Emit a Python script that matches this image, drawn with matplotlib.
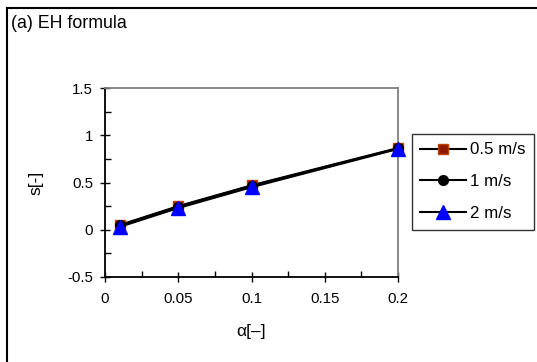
import matplotlib
matplotlib.use("Agg")
import matplotlib.pyplot as plt
from matplotlib.lines import Line2D
from matplotlib.ticker import MultipleLocator

plt.rcParams['font.family'] = ['Liberation Sans', 'DejaVu Sans']

alpha = [0.01, 0.05, 0.1, 0.2]
s_05 = [0.05, 0.25, 0.47, 0.865]
s_1 = [0.045, 0.245, 0.465, 0.86]
s_2 = [0.03, 0.23, 0.45, 0.855]
labels = ["0.5 m/s", "1 m/s", "2 m/s"]
xticks = [0, 0.05, 0.1, 0.15, 0.2]
xticklabels = ['0', '0.05', '0.1', '0.15', '0.2']
yticks = [-0.5, 0, 0.5, 1, 1.5]
yticklabels = ['-0.5', '0', '0.5', '1', '1.5']

fig = plt.figure(figsize=(5.37, 3.62), dpi=100)
ax = fig.add_axes([105/537, 1-277/362, (398-105)/537, (277-88)/362])

ax.plot(alpha, s_05, color='black', lw=1.5, marker='s', ms=7,
        mfc='#8B1A00', mec='#C04000', label=labels[0], clip_on=False, zorder=3)
ax.plot(alpha, s_1, color='black', lw=1.5, marker='o', ms=7,
        mfc='black', mec='black', label=labels[1], clip_on=False, zorder=4)
ax.plot(alpha, s_2, color='black', lw=1.5, marker='^', ms=9.5,
        mfc='#0000FF', mec='#0000FF', label=labels[2], clip_on=False, zorder=5)

ax.set_xlim(0, 0.2)
ax.set_ylim(-0.5, 1.5)
ax.xaxis.set_minor_locator(MultipleLocator(0.025))
ax.yaxis.set_minor_locator(MultipleLocator(0.25))
ax.set_xticks(xticks)
ax.set_xticklabels(xticklabels)
ax.set_yticks(yticks)
ax.set_yticklabels(yticklabels)
ax.tick_params(which='major', direction='inout', length=7, width=1, labelsize=10.8)
ax.tick_params(axis='x', which='major', pad=7)
ax.tick_params(axis='y', which='major', pad=5)
ax.tick_params(which='minor', direction='in', length=4, width=1)
for side in ['left', 'bottom']:
    ax.spines[side].set_color('black')
    ax.spines[side].set_linewidth(1.3)
for side in ['top', 'right']:
    ax.spines[side].set_color('#808080')
    ax.spines[side].set_linewidth(1.3)

ax.set_xlabel('α[–]', fontsize=12.5, labelpad=13)
ax.set_ylabel('s[-]', fontsize=12.5, labelpad=17)

leg = ax.legend(loc='upper left', bbox_to_anchor=(412/537, 1-134/362),
                bbox_transform=fig.transFigure, fontsize=12.2, frameon=True,
                fancybox=False, edgecolor='black', handlelength=2.7,
                handletextpad=0.2, labelspacing=1.0, borderaxespad=0,
                borderpad=0.5)
leg.get_frame().set_linewidth(1.0)

fig.text(11/537, 1-23/362, '(a) EH formula', fontsize=12.8, va='center', ha='left')

fig.add_artist(Line2D([7/537, 1], [1-8/362, 1-8/362], color='black', lw=1.5,
                      transform=fig.transFigure))
fig.add_artist(Line2D([7/537, 7/537], [0, 1-8/362], color='black', lw=1.5,
                      transform=fig.transFigure))

fig.savefig('out.png', dpi=100)
